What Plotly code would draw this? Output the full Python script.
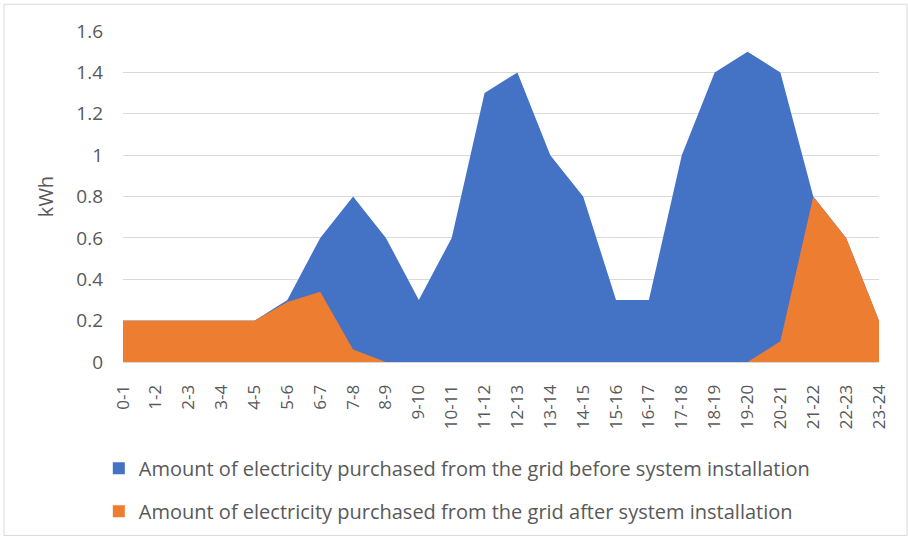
import plotly.graph_objects as go

# Hourly intervals of the day
hours = ["0-1", "1-2", "2-3", "3-4", "4-5", "5-6", "6-7", "7-8", "8-9", "9-10",
         "10-11", "11-12", "12-13", "13-14", "14-15", "15-16", "16-17", "17-18",
         "18-19", "19-20", "20-21", "21-22", "22-23", "23-24"]

# Electricity bought from the grid (kWh)
before_install = [0.2, 0.2, 0.2, 0.2, 0.2, 0.3, 0.6, 0.8, 0.6, 0.3,
                  0.6, 1.3, 1.4, 1.0, 0.8, 0.3, 0.3, 1.0,
                  1.4, 1.5, 1.4, 0.8, 0.6, 0.2]
after_install = [0.2, 0.2, 0.2, 0.2, 0.2, 0.29, 0.34, 0.06, 0.0, 0.0,
                 0.0, 0.0, 0.0, 0.0, 0.0, 0.0, 0.0, 0.0,
                 0.0, 0.0, 0.1, 0.8, 0.6, 0.2]

y_ticks = [0, 0.2, 0.4, 0.6, 0.8, 1.0, 1.2, 1.4, 1.6]
y_labels = ["0", "0.2", "0.4", "0.6", "0.8", "1", "1.2", "1.4", "1.6"]

series_names = [
    "Amount of electricity purchased from the grid before system installation",
    "Amount of electricity purchased from the grid after system installation",
]

BLUE = "#4472C4"
ORANGE = "#ED7D31"
TEXT = "#595959"
FONT = "Open Sans, DejaVu Sans, sans-serif"

fig = go.Figure()

# Filled areas (the later series is drawn on top)
for vals, color in [(before_install, BLUE), (after_install, ORANGE)]:
    fig.add_trace(go.Scatter(
        x=hours, y=vals, mode="lines", fill="tozeroy",
        line=dict(width=0, color=color), fillcolor=color,
        showlegend=False, hoverinfo="skip"))

# Square legend keys
for i, (name, color) in enumerate(zip(series_names, [BLUE, ORANGE])):
    fig.add_trace(go.Scatter(
        x=[None], y=[None], mode="markers", name=name,
        marker=dict(symbol="square", size=12, color=color),
        legendgroup=f"g{i}", hoverinfo="skip"))

L, R, T, B = 123, 29, 31, 178
W, H = 908, 543
pw, ph = W - L - R, H - T - B

fig.update_layout(
    width=W, height=H,
    margin=dict(l=L, r=R, t=T, b=B),
    paper_bgcolor="white", plot_bgcolor="white",
    font=dict(family=FONT, color=TEXT, size=16),
    showlegend=True,
    legend=dict(
        orientation="v", x=-0.032, xanchor="left",
        y=-0.262, yanchor="top",
        traceorder="grouped", tracegroupgap=14,
        font=dict(size=20, color=TEXT),
        itemwidth=30, bgcolor="rgba(0,0,0,0)",
    ),
    xaxis=dict(
        type="category", range=[0, len(hours) - 1],
        tickangle=-90, showgrid=False, ticks="",
        showline=True, linecolor="#d9d9d9",
        ticklabelstandoff=15,
        tickfont=dict(size=17, color=TEXT),
    ),
    yaxis=dict(
        range=[0, 1.6], tickvals=y_ticks, ticktext=y_labels,
        showgrid=True, gridcolor="#d9d9d9", gridwidth=1,
        zeroline=False, ticks="", ticklabelstandoff=19,
        tickfont=dict(size=19, color=TEXT),
        title=dict(text="kWh", font=dict(size=20, color=TEXT), standoff=17),
    ),
    shapes=[dict(
        type="rect", xref="paper", yref="paper",
        x0=(4 - L) / pw, x1=(907 - L) / pw,
        y0=(H - B - 540) / ph, y1=(H - B - 4) / ph,
        line=dict(color="#d9d9d9", width=1), fillcolor="rgba(0,0,0,0)",
        layer="below",
    )],
)

fig.write_html("out.html")
